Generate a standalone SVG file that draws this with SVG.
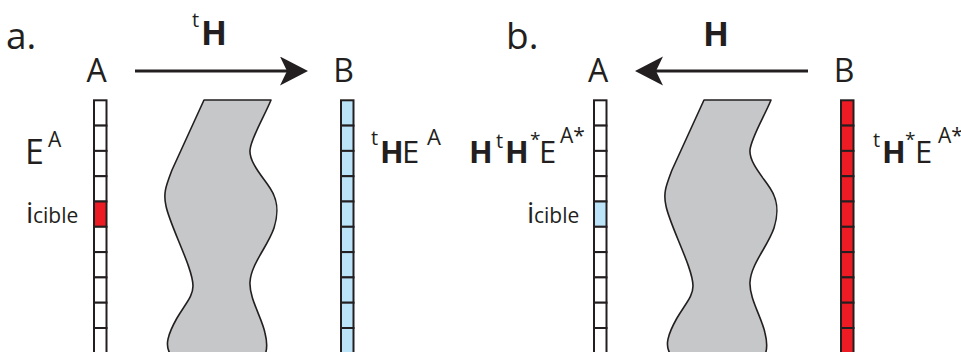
<svg xmlns="http://www.w3.org/2000/svg" width="961" height="352" viewBox="0 0 961 352">
  <style>
    .txt { font-family: "Open Sans", "Noto Sans", "Liberation Sans", sans-serif; fill: #231f20; }
    .b { font-weight: bold; }
    .cell { stroke: #231f20; stroke-width: 2; }
    .white { fill: #ffffff; }
    .blue { fill: #bce4f8; }
    .red { fill: #ed1c24; }
    .blob { fill: #c6c7c9; stroke: #231f20; stroke-width: 1.6; stroke-linejoin: round; }
    .arrow { stroke: #231f20; stroke-width: 3; fill: none; }
  </style>
  <defs>
    <!-- one column segment -->
    <rect id="c" x="0" y="0" width="12.5" height="25.3"/>
    <!-- wavy region between the two planes -->
    <path id="blob" d="M204,100 H271 C265,115 251,138 250,150 C249,162 262,176 270,188 C278,200 279,212 274,228 C268,246 251,264 250,282 C249,298 262,318 265,333 C268,345 267,350 265,355 L171,355 C164,346 168,334 177,318 C186,303 193,296 193,286 C193,268 170,226 166,206 C163,193 166,186 172,170 Z"/>
    <marker id="head" markerUnits="userSpaceOnUse" markerWidth="30" markerHeight="30" refX="15" refY="14.5" orient="auto">
      <path d="M0,0 L28,14.5 L0,29 L7,14.5 Z" fill="#231f20"/>
    </marker>
  </defs>

  <!-- panel a -->
  <g id="panel-a-labels">
    <text class="txt" x="6" y="49" font-size="37">a.</text>
    <text class="txt" x="96.5" y="82" font-size="32" text-anchor="middle">A</text>
    <text class="txt" x="343.5" y="82" font-size="32" text-anchor="middle">B</text>
    <text class="txt"><tspan x="192" y="27" font-size="20">t</tspan><tspan class="b" x="201" y="45" font-size="34">H</tspan></text>
  </g>

  <g id="a-blob"><use href="#blob" class="blob"/></g>

  <g id="a-column-A">
    <use href="#c" class="cell white" x="94" y="100.3"/>
    <use href="#c" class="cell white" x="94" y="125.6"/>
    <use href="#c" class="cell white" x="94" y="150.9"/>
    <use href="#c" class="cell white" x="94" y="176.2"/>
    <use href="#c" class="cell red" x="94" y="201.5"/>
    <use href="#c" class="cell white" x="94" y="226.8"/>
    <use href="#c" class="cell white" x="94" y="252.1"/>
    <use href="#c" class="cell white" x="94" y="277.4"/>
    <use href="#c" class="cell white" x="94" y="302.7"/>
    <use href="#c" class="cell white" x="94" y="328.0"/>
    <use href="#c" class="cell white" x="94" y="353.3"/>
  </g>

  <g id="a-column-B">
    <use href="#c" class="cell blue" x="341" y="100.3"/>
    <use href="#c" class="cell blue" x="341" y="125.6"/>
    <use href="#c" class="cell blue" x="341" y="150.9"/>
    <use href="#c" class="cell blue" x="341" y="176.2"/>
    <use href="#c" class="cell blue" x="341" y="201.5"/>
    <use href="#c" class="cell blue" x="341" y="226.8"/>
    <use href="#c" class="cell blue" x="341" y="252.1"/>
    <use href="#c" class="cell blue" x="341" y="277.4"/>
    <use href="#c" class="cell blue" x="341" y="302.7"/>
    <use href="#c" class="cell blue" x="341" y="328.0"/>
    <use href="#c" class="cell blue" x="341" y="353.3"/>
  </g>

  <g id="a-field-labels">
    <text class="txt"><tspan x="25" y="164" font-size="34">E</tspan><tspan x="48" y="147" font-size="21">A</tspan></text>
    <text class="txt"><tspan x="26" y="223" font-size="29">i</tspan><tspan x="33" y="223" font-size="21">cible</tspan></text>
    <text class="txt"><tspan x="371" y="145" font-size="20">t</tspan><tspan class="b" x="380" y="163" font-size="31">H</tspan><tspan x="402" y="163" font-size="31">E</tspan><tspan x="427" y="145" font-size="22">A</tspan></text>
  </g>

  <!-- panel b -->
  <g id="panel-b-labels">
    <text class="txt" x="506" y="49" font-size="37">b.</text>
    <text class="txt" x="598" y="82" font-size="32" text-anchor="middle">A</text>
    <text class="txt" x="844" y="82" font-size="32" text-anchor="middle">B</text>
    <text class="txt b" x="716" y="46" font-size="34" text-anchor="middle">H</text>
  </g>

  <g id="b-blob"><use href="#blob" class="blob" transform="translate(500,0)"/></g>

  <g id="b-column-A">
    <use href="#c" class="cell white" x="594" y="100.3"/>
    <use href="#c" class="cell white" x="594" y="125.6"/>
    <use href="#c" class="cell white" x="594" y="150.9"/>
    <use href="#c" class="cell white" x="594" y="176.2"/>
    <use href="#c" class="cell blue" x="594" y="201.5"/>
    <use href="#c" class="cell white" x="594" y="226.8"/>
    <use href="#c" class="cell white" x="594" y="252.1"/>
    <use href="#c" class="cell white" x="594" y="277.4"/>
    <use href="#c" class="cell white" x="594" y="302.7"/>
    <use href="#c" class="cell white" x="594" y="328.0"/>
    <use href="#c" class="cell white" x="594" y="353.3"/>
  </g>

  <g id="b-column-B">
    <use href="#c" class="cell red" x="841" y="100.3"/>
    <use href="#c" class="cell red" x="841" y="125.6"/>
    <use href="#c" class="cell red" x="841" y="150.9"/>
    <use href="#c" class="cell red" x="841" y="176.2"/>
    <use href="#c" class="cell red" x="841" y="201.5"/>
    <use href="#c" class="cell red" x="841" y="226.8"/>
    <use href="#c" class="cell red" x="841" y="252.1"/>
    <use href="#c" class="cell red" x="841" y="277.4"/>
    <use href="#c" class="cell red" x="841" y="302.7"/>
    <use href="#c" class="cell red" x="841" y="328.0"/>
    <use href="#c" class="cell red" x="841" y="353.3"/>
  </g>

  <g id="b-field-labels">
    <text class="txt"><tspan class="b" x="469" y="163" font-size="31">H</tspan><tspan x="496" y="148" font-size="20">t</tspan><tspan class="b" x="505" y="163" font-size="31">H</tspan><tspan x="530" y="146" font-size="19">*</tspan><tspan x="539" y="163" font-size="31">E</tspan><tspan x="560" y="143" font-size="21">A*</tspan></text>
    <text class="txt"><tspan x="527" y="223" font-size="29">i</tspan><tspan x="534" y="223" font-size="21">cible</tspan></text>
    <text class="txt"><tspan x="873" y="147" font-size="20">t</tspan><tspan class="b" x="882" y="163" font-size="31">H</tspan><tspan x="905" y="146" font-size="19">*</tspan><tspan x="915" y="163" font-size="31">E</tspan><tspan x="938" y="143" font-size="21">A*</tspan></text>
  </g>

  <!-- propagation arrows -->
  <g id="connectors">
    <line class="arrow" x1="135" y1="71" x2="295" y2="71" marker-end="url(#head)"/>
    <line class="arrow" x1="808" y1="71" x2="648" y2="71" marker-end="url(#head)"/>
  </g>
</svg>
